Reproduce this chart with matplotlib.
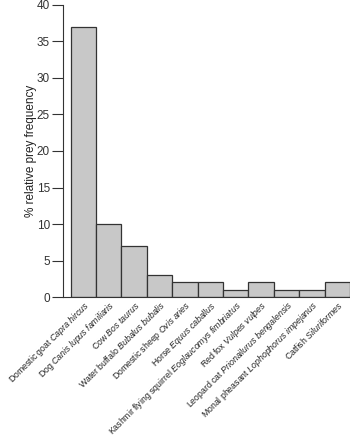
import matplotlib.pyplot as plt
import numpy as np

plt.rcParams['font.family'] = ['Liberation Sans', 'DejaVu Sans']
plt.rcParams['mathtext.fontset'] = 'custom'
plt.rcParams['mathtext.rm'] = 'Liberation Sans'
plt.rcParams['mathtext.it'] = 'Liberation Sans:italic'

common_names = ['Domestic goat', 'Dog', 'Cow', 'Water buffalo', 'Domestic sheep',
                'Horse', 'Kashmir flying squirrel', 'Red fox', 'Leopard cat',
                'Monal pheasant', 'Catfish']
latin_names = ['Capra hircus', 'Canis lupus familiaris', 'Bos taurus',
               'Bubalus bubalis', 'Ovis aries', 'Equus caballus',
               'Eoglaucomys fimbriatus', 'Vulpes vulpes',
               'Prionailurus bengalensis', 'Lophophorus impejanus', 'Siluriformes']
frequency = [37, 10, 7, 3, 2, 2, 1, 2, 1, 1, 2]

labels = [c + ' $\\it{' + l.replace(' ', '\\ ') + '}$'
          for c, l in zip(common_names, latin_names)]

fig = plt.figure(figsize=(3.5, 4.41), dpi=100)
ax = fig.add_axes([0.18, 0.3265, 0.82, 0.6622])

x = np.arange(len(frequency))
ax.bar(x, frequency, width=1.0, color='#c8c8c8', edgecolor='#333333', linewidth=0.9)

ax.set_xlim(-0.8, 10.5)
ax.set_ylim(0, 40)
ax.set_yticks(range(0, 41, 5))
ax.tick_params(axis='y', direction='out', length=8, width=0.8, labelsize=8.5,
               colors='#333333', pad=1.5)
ax.set_xticks(x)
ax.set_xticklabels(labels, rotation=45, ha='right', rotation_mode='anchor',
                   fontsize=6.3, color='#222222')
ax.tick_params(axis='x', length=0, pad=1.5)

for s in ['top', 'right']:
    ax.spines[s].set_visible(False)
ax.spines['left'].set_color('#333333')
ax.spines['bottom'].set_color('#333333')
ax.spines['left'].set_linewidth(0.8)
ax.spines['bottom'].set_linewidth(0.8)

ax.set_ylabel('% relative prey frequency', fontsize=8.5, color='#222222', labelpad=0)

fig.savefig('out.png', dpi=100)
